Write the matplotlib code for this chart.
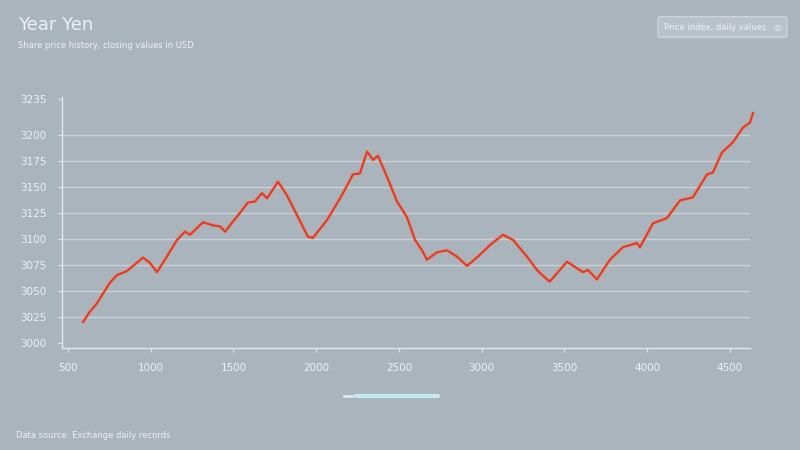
import matplotlib.pyplot as plt
from matplotlib.lines import Line2D

# values
x_values = [591, 633, 675, 754, 795, 856, 916, 953, 995, 1038, 1074, 1159, 1207, 1237,
            1316, 1376, 1418, 1449, 1479, 1539, 1588, 1630, 1672, 1703, 1769, 1823, 1890,
            1950, 1980, 2065, 2162, 2222, 2264, 2307, 2343, 2373, 2427, 2488, 2548, 2597,
            2639, 2669, 2729, 2790, 2850, 2911, 2971, 3050, 3128, 3189, 3273, 3334, 3394,
            3412, 3515, 3612, 3642, 3696, 3775, 3853, 3938, 3956, 4035, 4119, 4198, 4276,
            4361, 4397, 4451, 4518, 4578, 4621, 4639]
y_values = [3020, 3030, 3038, 3058, 3065, 3069, 3077, 3082, 3077, 3068, 3077, 3099, 3107, 3104,
            3116, 3113, 3112, 3107, 3113, 3125, 3135, 3136, 3144, 3139, 3155, 3142, 3121,
            3102, 3101, 3118, 3144, 3162, 3163, 3184, 3176, 3180, 3160, 3136, 3121, 3099,
            3089, 3080, 3087, 3089, 3083, 3074, 3082, 3094, 3104, 3099, 3083, 3070, 3061,
            3059, 3078, 3068, 3070, 3061, 3080, 3092, 3096, 3092, 3115, 3120, 3137, 3140,
            3162, 3164, 3183, 3193, 3207, 3212, 3221]
x_ticks = [500, 1000, 1500, 2000, 2500, 3000, 3500, 4000, 4500]
y_ticks = [3000, 3025, 3050, 3075, 3100, 3125, 3150, 3175, 3200, 3235]

bg = '#aab4bd'
txt = '#eef1f3'

fig = plt.figure(figsize=(8, 4.5), dpi=100, facecolor=bg)
ax = fig.add_axes([0.0775, 0.2267, 0.86, 0.5577], facecolor=bg)

for t in y_ticks[1:-1]:
    ax.axhline(t, color='#cad1d7', lw=1, zorder=1)

ax.plot(x_values, y_values, color='#ef8c74', lw=2.8, alpha=0.55, zorder=2, clip_on=False)
ax.plot(x_values, y_values, color='#dc3d26', lw=1.5, zorder=3, clip_on=False)

ax.set_xlim(464, 4621)
ax.set_ylim(2995, 3236.5)
ax.set_xticks(x_ticks)
ax.set_xticklabels([str(v) for v in x_ticks])
ax.set_yticks(y_ticks)
ax.set_yticklabels([str(v) for v in y_ticks])
ax.tick_params(colors='#dfe4e8', labelcolor=txt, labelsize=7.5, length=3, width=0.8)
ax.tick_params(axis='x', pad=8)
ax.tick_params(axis='y', pad=8)

for s in ['top', 'right']:
    ax.spines[s].set_visible(False)
for s in ['left', 'bottom']:
    ax.spines[s].set_color('#e4e8eb')
    ax.spines[s].set_linewidth(1)

fig.text(0.0225, 0.945, 'Year Yen', color=txt, fontsize=13, va='center', ha='left')
fig.text(0.0225, 0.898, 'Share price history, closing values in USD', color=txt,
         fontsize=6, va='center', ha='left')
fig.text(0.02, 0.033, 'Data source: Exchange daily records', color=txt,
         fontsize=6, va='center', ha='left')

# legend-like box in the top right corner
fig.text(0.903, 0.94, 'Price index, daily values   \u25ce', color='#eef1f3', fontsize=6,
         va='center', ha='center',
         bbox=dict(boxstyle='round,pad=0.7,rounding_size=0.3', fc='#b9c2ca', ec='#ccd3d9', lw=1))

# slider bar under the axis
fig.add_artist(Line2D([0.445, 0.548], [0.121, 0.121], color='#c6e9f0', lw=3,
                      solid_capstyle='round'))
fig.add_artist(Line2D([0.43, 0.44], [0.121, 0.121], color='#dde9ee', lw=2))

fig.savefig('out.png', dpi=100, facecolor=bg)
